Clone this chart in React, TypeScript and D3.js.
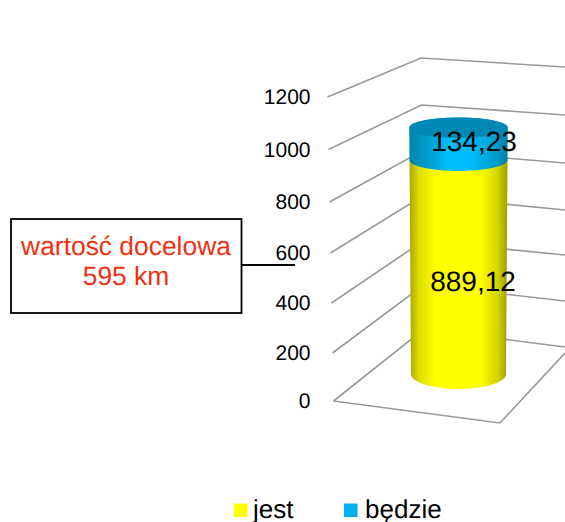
import React from "react";
import * as d3 from "d3";

const ticks = [0, 200, 400, 600, 800, 1000, 1200];
const jest = 889.12;
const bedzie = 134.23;
const jestLabel = "889,12";
const bedzieLabel = "134,23";
const legendNames = ["jest", "będzie"];
const noteLines = ["wartość docelowa", "595 km"];

const FONT = "'Liberation Sans', Arial, sans-serif";
const leftX = d3.scaleLinear().domain([0, 1200]).range([333.5, 327.5]);
const leftY = d3.scaleLinear().domain(ticks).range([401, 353, 303, 253, 202, 149.5, 97]);
const backX = d3.scaleLinear().domain([0, 1200]).range([424, 421]);
const backY = d3.scaleLinear().domain(ticks).range([329, 285, 241, 196, 151, 105, 58]);
const rightY = d3.scaleLinear().domain(ticks).range([347, 301, 255, 210, 163, 115, 67]);
const barY = d3.scaleLinear().domain([0, jest]).range([374, 160]);
const barHalf = d3.scaleLinear().domain([0, 1200]).range([47.5, 49.5]);
const barRy = d3.scaleLinear().domain([0, 1200]).range([15, 9.5]);
const cx = 458.5;

function segment(v0: number, v1: number) {
  const y0 = barY(v0), y1 = barY(v1), h0 = barHalf(v0), h1 = barHalf(v1), r0 = barRy(v0), r1 = barRy(v1);
  const p = d3.path();
  p.moveTo(cx - h1, y1);
  p.lineTo(cx - h0, y0);
  const steps = d3.range(0, 41).map((i) => (Math.PI * i) / 40);
  steps.forEach((a) => p.lineTo(cx - h0 * Math.cos(a), y0 + r0 * Math.sin(a)));
  p.lineTo(cx + h1, y1);
  steps.forEach((a) => p.lineTo(cx + h1 * Math.cos(a), y1 - r1 * Math.sin(a)));
  p.closePath();
  return p.toString();
}

export default function App() {
  const top = jest + bedzie;
  const grid = "#999999";
  return (
    <svg width={565} height={522} style={{ position: "absolute", left: 0, top: 0, background: "#fff", textRendering: "geometricPrecision" }} fontFamily={FONT}>
      <defs>
        <linearGradient id="yel" x1="0" x2="1" y1="0" y2="0">
          <stop offset="0" stopColor="#a8a800" />
          <stop offset="0.1" stopColor="#dede00" />
          <stop offset="0.28" stopColor="#ffff00" />
          <stop offset="0.72" stopColor="#ffff00" />
          <stop offset="0.9" stopColor="#d4d400" />
          <stop offset="1" stopColor="#9c9c00" />
        </linearGradient>
        <linearGradient id="blu" x1="0" x2="1" y1="0" y2="0">
          <stop offset="0" stopColor="#0082a8" />
          <stop offset="0.15" stopColor="#0098c8" />
          <stop offset="0.4" stopColor="#00bcf8" />
          <stop offset="0.62" stopColor="#00bcf8" />
          <stop offset="0.88" stopColor="#009ccc" />
          <stop offset="1" stopColor="#0080a6" />
        </linearGradient>
      </defs>
      {ticks.map((t) => (
        <polyline key={t} fill="none" stroke={grid} strokeWidth={1.6}
          points={`${leftX(t)},${leftY(t)} ${backX(t)},${backY(t)} 565,${rightY(t)}`} />
      ))}
      <polyline fill="none" stroke={grid} strokeWidth={1.6}
        points={`${leftX(0)},${leftY(0)} 500,423 565,353`} />
      {ticks.map((t) => (
        <text key={t} x={310.5} y={leftY(t) + 7} textAnchor="end" fontSize={21} fill="#000">{t}</text>
      ))}
      <path d={segment(0, jest)} fill="url(#yel)" />
      <path d={segment(jest, top)} fill="url(#blu)" />
      <ellipse cx={cx} cy={barY(top)} rx={barHalf(top)} ry={barRy(top)} fill="#0088b4" />
      <text x={473} y={291} textAnchor="middle" fontSize={28} fill="#000">{jestLabel}</text>
      <text x={474} y={151} textAnchor="middle" fontSize={28} fill="#000">{bedzieLabel}</text>
      <rect x={11} y={219} width={230.5} height={94} fill="#fff" stroke="#000" strokeWidth={1.8} />
      <line x1={241} x2={295} y1={265} y2={265} stroke="#000" strokeWidth={1.8} />
      {noteLines.map((s, i) => (
        <text key={s} x={126} y={255 + i * 30} textAnchor="middle" fontSize={26.4} fill="#f03010">{s}</text>
      ))}
      <rect x={234} y={503.5} width={13.5} height={13.5} fill="#ffff00" />
      <text x={253} y={518} fontSize={26} fill="#000">{legendNames[0]}</text>
      <rect x={344} y={503.5} width={13.5} height={13.5} fill="#00b0f0" />
      <text x={365} y={518} fontSize={26} fill="#000">{legendNames[1]}</text>
    </svg>
  );
}
